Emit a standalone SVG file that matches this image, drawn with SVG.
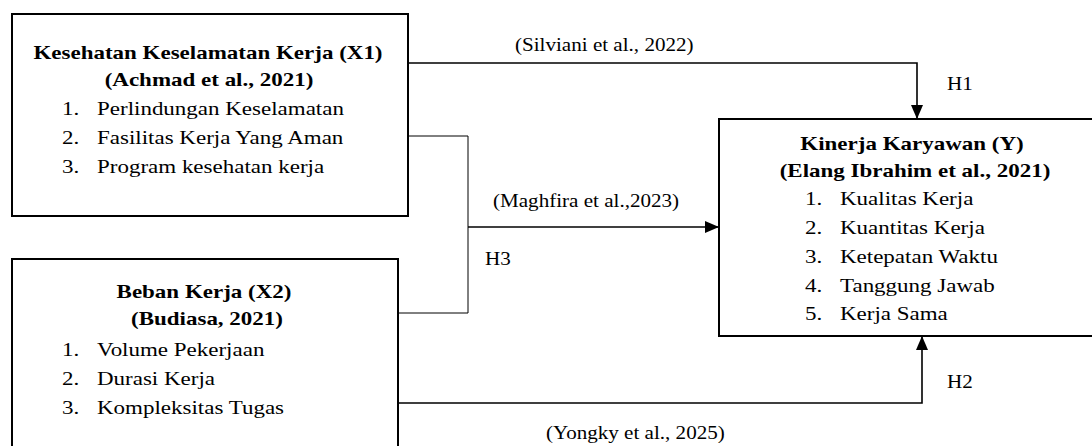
<svg xmlns="http://www.w3.org/2000/svg" width="1092" height="446" viewBox="0 0 1092 446">
<style>
.box{fill:#fff;stroke:#000;stroke-width:2}
text{font-family:'Liberation Serif','Times New Roman','DejaVu Serif',serif;fill:#000;font-size:19px}
.b{font-weight:bold}
.ln{fill:none;stroke:#000;stroke-width:1.6}
.thin{fill:none;stroke:#000;stroke-width:1}
</style>
<defs>
<marker id="arr" markerUnits="userSpaceOnUse" markerWidth="14" markerHeight="12" viewBox="0 0 14 12" refX="14" refY="6" orient="auto">
<path d="M0,0 L14,6 L0,12 Z" fill="#000"/>
</marker>
</defs>
<rect width="1092" height="446" fill="#fff"/>
<g id="connectors">
<path class="ln" d="M408,63 H917 V119" marker-end="url(#arr)"/>
<path class="thin" d="M408,136 H468 V313 H398"/>
<path class="ln" d="M468,227 H719" marker-end="url(#arr)"/>
<path class="ln" d="M398,403 H922 V336" marker-end="url(#arr)"/>
</g>
<g id="labels" font-family="Liberation Serif, serif">
<text class="r" transform="translate(515,51) scale(1.11,1)">(Silviani et al., 2022)</text>
<text class="r" transform="translate(947,90) scale(1.11,1)">H1</text>
<text class="r" transform="translate(493,207) scale(1.11,1)">(Maghfira et al.,2023)</text>
<text class="r" transform="translate(485,265) scale(1.11,1)">H3</text>
<text class="r" transform="translate(947,388) scale(1.11,1)">H2</text>
<text class="r" transform="translate(546,439) scale(1.11,1)">(Yongky et al., 2025)</text>
</g>
<g id="node-x1" font-family="Liberation Serif, serif">
<rect class="box" x="12" y="14" width="396" height="202"/>
<text class="b" text-anchor="middle" transform="translate(208,59) scale(1.21,1)">Kesehatan Keselamatan Kerja (X1)</text>
<text class="b" text-anchor="middle" transform="translate(209,86) scale(1.21,1)">(Achmad et al., 2021)</text>
<text class="r" transform="translate(62,115) scale(1.21,1)">1.</text>
<text class="r" transform="translate(97,115) scale(1.21,1)">Perlindungan Keselamatan</text>
<text class="r" transform="translate(62,144) scale(1.21,1)">2.</text>
<text class="r" transform="translate(97,144) scale(1.21,1)">Fasilitas Kerja Yang Aman</text>
<text class="r" transform="translate(62,173) scale(1.21,1)">3.</text>
<text class="r" transform="translate(97,173) scale(1.21,1)">Program kesehatan kerja</text>
</g>
<g id="node-x2" font-family="Liberation Serif, serif">
<rect class="box" x="12" y="259" width="386" height="200"/>
<text class="b" text-anchor="middle" transform="translate(204,298) scale(1.21,1)">Beban Kerja (X2)</text>
<text class="b" text-anchor="middle" transform="translate(207,325) scale(1.21,1)">(Budiasa, 2021)</text>
<text class="r" transform="translate(62,356) scale(1.21,1)">1.</text>
<text class="r" transform="translate(97,356) scale(1.21,1)">Volume Pekerjaan</text>
<text class="r" transform="translate(62,385) scale(1.21,1)">2.</text>
<text class="r" transform="translate(97,385) scale(1.21,1)">Durasi Kerja</text>
<text class="r" transform="translate(62,414) scale(1.21,1)">3.</text>
<text class="r" transform="translate(97,414) scale(1.21,1)">Kompleksitas Tugas</text>
</g>
<g id="node-y" font-family="Liberation Serif, serif">
<rect class="box" x="719" y="119" width="400" height="217"/>
<text class="b" text-anchor="middle" transform="translate(912,150) scale(1.21,1)">Kinerja Karyawan (Y)</text>
<text class="b" text-anchor="middle" transform="translate(915,177) scale(1.21,1)">(Elang Ibrahim et al., 2021)</text>
<text class="r" transform="translate(805,205) scale(1.21,1)">1.</text>
<text class="r" transform="translate(840,205) scale(1.21,1)">Kualitas Kerja</text>
<text class="r" transform="translate(805,234) scale(1.21,1)">2.</text>
<text class="r" transform="translate(840,234) scale(1.21,1)">Kuantitas Kerja</text>
<text class="r" transform="translate(805,263) scale(1.21,1)">3.</text>
<text class="r" transform="translate(840,263) scale(1.21,1)">Ketepatan Waktu</text>
<text class="r" transform="translate(805,292) scale(1.21,1)">4.</text>
<text class="r" transform="translate(840,292) scale(1.21,1)">Tanggung Jawab</text>
<text class="r" transform="translate(805,320) scale(1.21,1)">5.</text>
<text class="r" transform="translate(840,320) scale(1.21,1)">Kerja Sama</text>
</g>
</svg>
